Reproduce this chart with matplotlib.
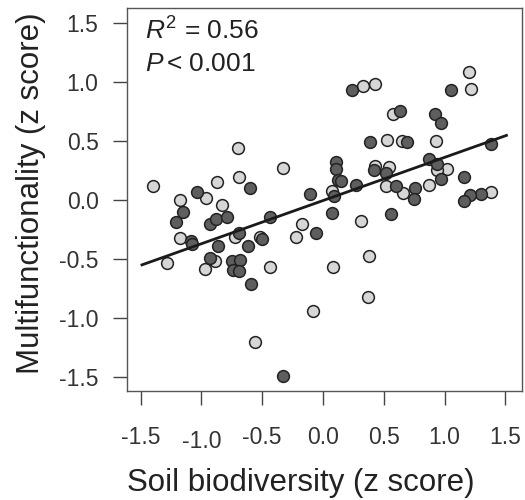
import matplotlib
matplotlib.use("Agg")
import matplotlib.pyplot as plt
import matplotlib.transforms as mtransforms
import numpy as np

plt.rcParams['font.family'] = ['Liberation Sans', 'DejaVu Sans']
plt.rcParams['mathtext.fontset'] = 'custom'
plt.rcParams['mathtext.rm'] = 'Liberation Sans'
plt.rcParams['mathtext.it'] = 'Liberation Sans:italic'

# light grey points (soil biodiversity, multifunctionality)
light_x = [-0.70, -0.33, -1.40, -0.87, -0.69, -0.96, -1.18, -0.83, -0.52,
           -1.18, -1.28, -0.72, -0.17, -0.22, -0.89, -0.97, -0.44, -0.08,
           -0.56, 0.33, 0.43, 0.65, 0.58, 0.53, 0.93, 1.02, 1.20, 1.22,
           0.43, 0.54, 0.52, 0.94, 0.87, 0.07, 0.66, 1.38, 0.31, 0.38,
           0.08, 0.37]
light_y = [0.44, 0.27, 0.12, 0.15, 0.19, 0.02, 0.00, -0.04, -0.31,
           -0.32, -0.53, -0.31, -0.20, -0.31, -0.52, -0.58, -0.57, -0.94,
           -1.20, 0.96, 0.98, 0.50, 0.73, 0.51, 0.50, 0.26, 1.08, 0.94,
           0.29, 0.28, 0.12, 0.25, 0.13, 0.08, 0.06, 0.07, -0.18, -0.47,
           -0.57, -0.82]

# dark grey points
dark_x = [-0.60, -1.04, -0.11, -1.15, -1.21, -0.93, -0.88, -0.79, -0.44,
          -1.09, -1.08, -0.86, -0.69, -0.62, -0.50, -0.93, -0.75, -0.68,
          -0.74, -0.69, -0.59, -0.33, 0.24, 1.05, 0.63, 0.92, 0.97, 0.39,
          0.69, 1.38, 0.87, 0.94, 1.16, 0.97, 0.11, 0.11, 0.12, 0.15,
          0.42, 0.52, 0.60, 0.27, 0.09, 0.76, 0.75, 1.30, 1.21, 1.16,
          0.07, 0.56, -0.06]
dark_y = [0.10, 0.07, 0.05, -0.10, -0.19, -0.20, -0.16, -0.14, -0.14,
          -0.35, -0.37, -0.39, -0.28, -0.39, -0.33, -0.49, -0.52, -0.51,
          -0.59, -0.60, -0.71, -1.49, 0.93, 0.93, 0.75, 0.73, 0.65, 0.49,
          0.49, 0.47, 0.35, 0.30, 0.19, 0.18, 0.32, 0.26, 0.17, 0.16,
          0.25, 0.23, 0.12, 0.13, 0.03, 0.10, 0.01, 0.05, 0.04, -0.01,
          -0.11, -0.12, -0.28]

# regression line
fit_slope = 0.365
fit_intercept = -0.005
fit_range = [-1.5, 1.52]

tick_vals = [-1.5, -1.0, -0.5, 0.0, 0.5, 1.0, 1.5]
tick_labels = ["-1.5", "-1.0", "-0.5", "0.0", "0.5", "1.0", "1.5"]

fig = plt.figure(figsize=(5.25, 5.0), dpi=100)
ax = fig.add_axes([0.242, 0.218, 0.752, 0.766])

ax.scatter(light_x, light_y, s=72, facecolor="#d6d6d6", edgecolor="#222222",
           linewidth=1.1, zorder=3)
ax.scatter(dark_x, dark_y, s=72, facecolor="#5e5e5e", edgecolor="#222222",
           linewidth=1.1, zorder=3)

lx = np.array(fit_range)
ax.plot(lx, fit_intercept + fit_slope * lx, color="#1a1a1a", lw=2.0,
        zorder=4, solid_capstyle="butt")

ax.set_xlim(-1.612, 1.636)
ax.set_ylim(-1.615, 1.623)

for sp in ax.spines.values():
    sp.set_color("#555555")
    sp.set_linewidth(1.0)

ax.set_xticks(tick_vals)
ax.set_xticklabels([])
ax.set_yticks(tick_vals)
ax.set_yticklabels(tick_labels)
ax.tick_params(axis="both", length=10, width=1.0, color="#444444",
               labelsize=16.5, labelcolor="#333333")
ax.tick_params(axis="y", pad=10.5)

# x tick labels drawn as text (the -1.0 label sits a little lower)
trans = mtransforms.blended_transform_factory(ax.transData, ax.transAxes)
for v, lab in zip(tick_vals, tick_labels):
    dy = -4 if lab == "-1.0" else 0
    t = mtransforms.offset_copy(trans, fig=fig, x=0, y=dy, units="dots")
    ax.text(v, -0.092, lab, transform=t, ha="center", va="top",
            fontsize=16.5, color="#333333")

ax.set_xlabel("Soil biodiversity (z score)", fontsize=22.5, color="#222222")
ax.xaxis.set_label_coords(0.44, -0.202)
ax.set_ylabel("Multifunctionality (z score)", fontsize=22.5, color="#222222")
ax.yaxis.set_label_coords(-0.205, 0.517)

ax.text(0.045, 0.975, r"$R^2$ = 0.56", transform=ax.transAxes, fontsize=19,
        va="top", ha="left", color="#222222")
ax.text(0.045, 0.885, r"$P\,$< 0.001", transform=ax.transAxes, fontsize=19,
        va="top", ha="left", color="#222222")

fig.savefig("out.png", dpi=100)
